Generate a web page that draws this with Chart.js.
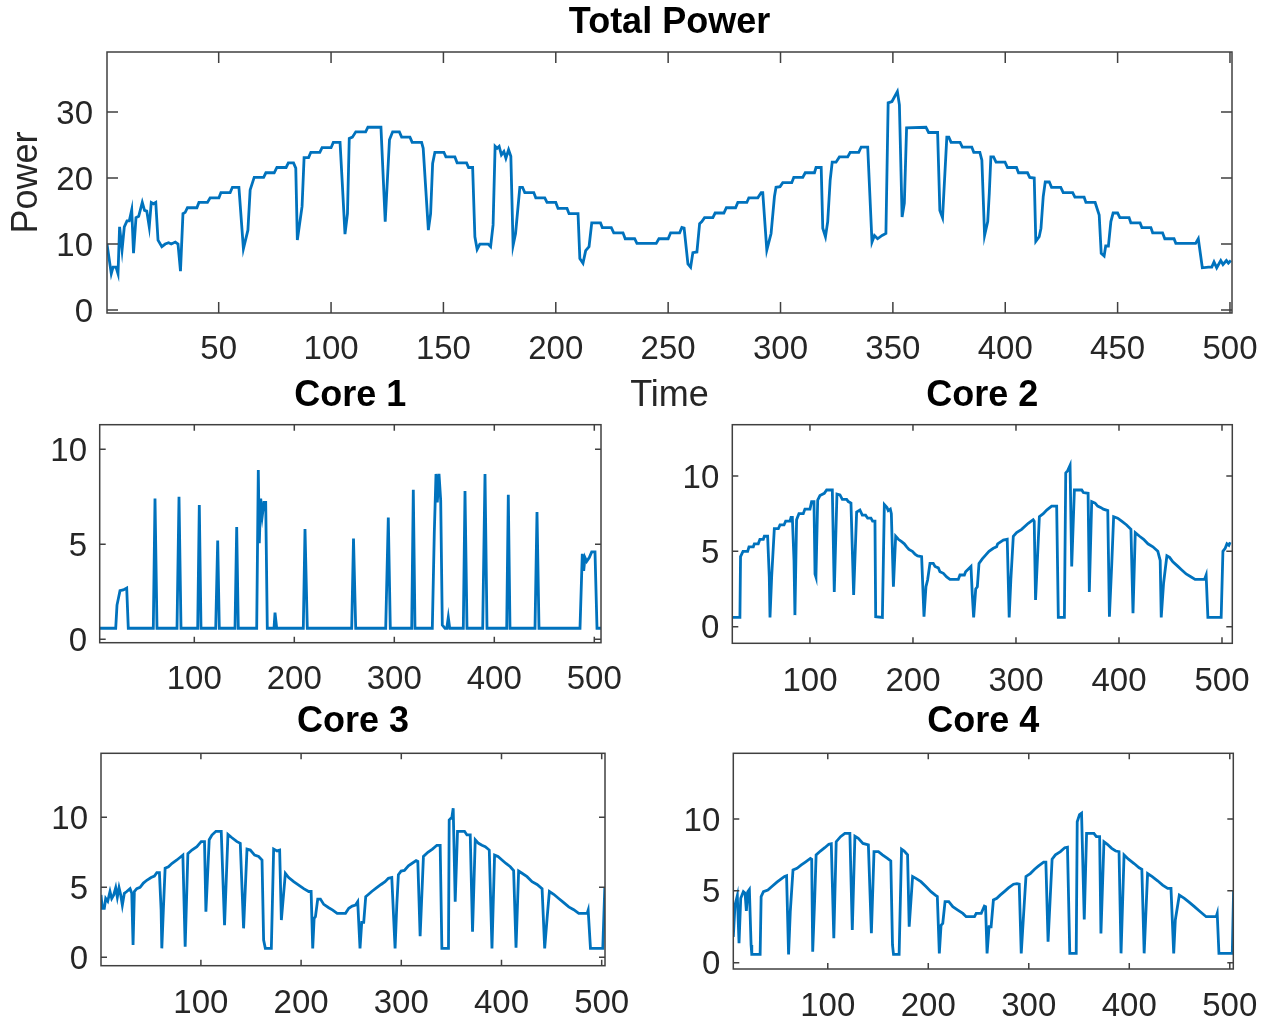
<!DOCTYPE html>
<html>
<head>
<meta charset="utf-8">
<title>Total Power</title>
<script src="https://cdn.jsdelivr.net/npm/chart.js@4.4.0/dist/chart.umd.min.js"></script>
<style>
    body { margin: 0; background: #fff; width: 1270px; height: 1023px; overflow: hidden; position: relative; }
    canvas { position: absolute; }
</style>
</head>
<body>
<canvas id="total" width="1270" height="420" style="left:0;top:0"></canvas>
<canvas id="core1" width="635" height="340" style="left:0;top:370px"></canvas>
<canvas id="core2" width="635" height="340" style="left:635px;top:370px"></canvas>
<canvas id="core3" width="635" height="325" style="left:0;top:698px"></canvas>
<canvas id="core4" width="635" height="325" style="left:635px;top:698px"></canvas>
<script>
// Datos: instantes (tiempo) y potencia de cada serie
const totalT = [0.3,2.2,3,4.3,5.2,5.9,7,8,9.2,10.2,11.3,12.1,13.2,14.4,16,17,18,19.1,20,21,22,23,24.7,26.2,27.7,28.9,30.7,31.9,33,34.1,35.1,36.1,40.3,41.2,45,46.2,50.1,51,55.1,56.1,59,61,63,64,65.8,70,71,74.7,75.9,80,81,83.3,84.3,85,87.1,88,90,91,95,96,100,101,104,105,106.2,107.3,108.1,109.5,111,115.4,116.4,122.2,124.1,126,127.4,130.4,131.4,135.1,136.1,140.3,141,143.3,144.3,145.2,146.2,150.2,151.1,155.1,156.1,160.3,161.2,163,164,165,166.2,169.9,171,172.1,173,173.9,174.8,175.8,176.9,177.8,179,180,181,182.1,184,185.2,186.2,190.2,191.1,195.1,196.1,200,201,205,205.9,209.9,210.7,212.1,213.3,214.8,216,219.9,220.7,224.7,225.8,229.9,230.9,235.1,236.1,244.7,245.9,250,251.1,255.1,256.1,257.1,258.8,260,261,262.8,264,265,266.2,269.9,270.9,274.8,275.9,280,281,285,285.9,289.9,291.4,292.1,293.9,295.8,297.3,298,299.8,301,305,305.9,309.9,311,315.1,315.8,318.1,318.8,320,321,322.1,323,324.7,326.2,329.9,331,334.8,335.9,338.8,340.7,341.8,343.2,345.2,346.9,347.9,349.6,352,352.9,354.1,355.1,356.1,364.7,365.9,369.9,370.9,372.1,374,374.9,375.9,379.9,380.9,385.1,386,388.7,389.6,390.8,392.2,392.9,393.6,394.8,395.9,399.9,401,405,405.9,409.9,410.9,412.9,413.6,415.1,415.9,416.9,417.8,419.6,420.6,424.7,425.8,430,431,435.1,435.9,440,441.8,442.7,444,444.7,445.9,447,448,450,451,455.1,455.9,460,460.8,464.8,465.6,470,471,475.1,475.9,484.7,485.9,487.7,490.4,491.9,492.9,494.1,495.9,496.9,498.4,499.3,500.4];
const totalP = [10.0,5.5,6.5,6.5,5.5,12.6,9.1,12.6,13.5,13.5,15.2,8.6,14.0,14.2,16.3,15.1,15.0,12.6,16.3,16.1,16.3,10.6,9.6,10.0,10.2,10.0,10.3,10.0,5.9,14.6,14.8,15.5,15.5,16.3,16.3,17.0,17.0,17.8,17.8,18.6,18.6,9.3,12.1,18.2,20.1,20.1,20.8,20.8,21.6,21.6,22.3,22.3,21.5,10.6,15.7,23.1,23.1,23.9,23.9,24.6,24.6,25.4,25.4,19.2,11.5,14.6,26.0,26.2,27.0,27.0,27.7,27.7,13.4,25.8,27.0,27.0,26.2,26.2,25.4,25.4,24.5,12.1,14.6,22.2,23.9,23.9,23.2,23.2,22.3,22.3,21.6,21.6,11.1,9.2,10.0,10.0,9.6,12.9,24.8,24.5,24.8,23.5,24.0,23.0,24.3,23.3,9.8,11.6,18.6,18.6,17.8,17.8,17.0,17.0,16.3,16.3,15.4,15.4,14.6,14.6,7.8,7.1,9.0,9.6,13.2,13.2,12.5,12.5,11.7,11.7,10.8,10.8,10.1,10.1,10.8,10.8,11.7,11.7,12.5,12.4,7.0,6.5,8.7,8.8,13.1,13.4,14.0,14.0,14.7,14.7,15.5,15.5,16.3,16.3,17.0,17.0,17.8,17.8,9.1,11.6,17.2,18.6,18.7,19.3,19.3,20.1,20.1,20.8,20.8,21.6,21.6,12.4,11.1,13.4,19.7,22.4,22.4,23.2,23.2,23.9,23.9,24.7,24.7,10.3,11.3,10.8,11.3,11.6,31.4,31.6,33.1,31.1,14.1,16.2,27.6,27.7,26.9,26.9,15.1,14.0,26.2,26.2,25.4,25.4,24.7,24.7,23.9,23.9,22.7,11.3,13.4,17.7,23.2,23.2,22.4,22.4,21.6,21.6,20.8,20.8,20.1,20.0,10.4,11.1,12.4,17.2,19.4,19.4,18.6,18.6,17.8,17.8,17.1,17.1,16.3,16.3,14.4,8.6,8.2,9.7,9.7,13.4,14.7,14.7,14.0,14.0,13.2,13.2,12.5,12.5,11.7,11.7,10.8,10.8,10.1,10.1,10.8,6.4,6.5,6.5,7.3,6.4,7.5,6.9,7.5,7.1,7.5];

const core1T = [5.4,21.4,22.7,25.7,29,32.4,34,59,60.7,62.7,82.7,84.7,86.7,103.4,105,106.7,121.4,123.4,125,140.7,142.4,144,162.4,164,165,166.4,168,169.7,171.4,173,179.7,180.7,182.4,209,210.7,213,257.4,259.2,261.4,291.4,294,296,317.4,319,320.7,338,340,341.7,343,344.7,346.4,348,350.7,352.5,354,355.4,369,370.7,372.7,388.4,390.7,392.7,412.4,414,415.7,440.7,442.7,444.7,485.7,488,489.4,490.7,492.4,495,497.4,500.7,502.7,506.7];
const core1P = [0.58,0.58,1.8,2.56,2.6,2.7,0.58,0.58,7.4,0.58,0.58,7.5,0.58,0.58,7.07,0.58,0.58,5.2,0.58,0.58,5.9,0.58,0.58,8.9,5.05,7.4,6.5,7.2,7.2,0.58,0.58,1.4,0.58,0.58,5.8,0.58,0.58,5.3,0.58,0.58,6.4,0.58,0.58,7.86,0.58,0.58,5.6,8.7,7.2,8.7,7.3,0.75,0.58,0.58,1.15,0.58,0.58,7.8,0.58,0.58,8.7,0.58,0.58,7.6,0.58,0.58,6.7,0.58,0.58,4.5,3.6,4.3,4.1,4.3,4.6,4.6,0.58,0.58];

const core2T = [24.6,32,32.6,35,39.5,40.8,45,46,49.8,51.4,54.7,55.7,58.9,60.5,61.2,62.8,65.4,69.3,70.9,74.8,76.4,80.6,81.6,82.9,84.5,85.4,87,89.3,93.5,95.1,100,101.6,103.9,104.9,105.8,107.5,109.7,113.9,116.2,121.7,123.6,126.2,129.1,131.4,135.6,137.2,139.8,142.4,145.3,148.5,150.8,154,156,159.2,160.8,163.1,163.8,170.3,172.2,174.8,176,178,179,181,183.2,185.8,189,191.6,193.9,196.1,199.4,201.9,204.5,208.4,210.7,212.6,214.2,216.5,219.7,221.4,224.6,226.2,229.5,232.7,235.9,244,245.6,249.9,251.1,256.3,257.6,258.9,260.9,262.5,264.1,267.3,270.5,273.8,278,281.2,282.2,287.7,291.5,293.4,295,297.4,300.6,305.5,311.9,316.7,317.7,319,322.7,326.5,329.8,334.6,339.5,341.1,347,348.3,350.2,352.5,354.1,356.7,363.8,365.4,370,371.2,373.5,376.8,379.3,382.6,384.8,389.1,390.7,393,394.8,398.7,402.6,407.4,411.6,413.6,415.8,420,423.9,428.1,432.9,437.7,440,441,443.3,446.5,449.1,452.3,457.2,460.4,465.2,470.1,473.9,483,484.6,486.3,499.2,500.9,503.1,504.8,506.7,508];
const core2P = [0.62,0.62,4.65,5.0,5.0,5.3,5.3,5.5,5.5,5.8,5.8,6.0,6.0,3.3,0.62,3.3,6.5,6.5,6.75,6.75,7.0,7.0,7.25,7.25,4.4,0.77,7.1,7.5,7.5,7.8,7.8,8.3,8.3,3.5,3.3,8.4,8.7,8.85,9.07,9.07,2.3,8.8,8.74,8.45,8.45,8.3,8.2,2.1,7.6,7.74,7.4,7.4,7.2,7.2,7.0,7.0,0.66,0.62,8.1,7.9,7.7,7.8,7.5,2.65,6.0,5.8,5.64,5.5,5.3,5.13,5.0,4.82,4.7,4.65,0.66,2.65,3.1,4.2,4.2,4.0,3.9,3.65,3.54,3.3,3.14,3.14,3.43,3.43,3.65,4.0,2.1,0.62,2.5,2.65,4.2,4.5,4.75,5.0,5.2,5.3,5.5,5.75,5.8,0.62,3.1,6.0,6.24,6.46,6.86,7.1,7.0,1.77,7.3,7.5,7.74,8.0,8.0,0.62,0.62,10.2,10.35,10.7,4.0,9.07,9.07,8.9,8.85,2.3,8.3,8.2,8.0,7.9,7.8,7.7,0.66,4.2,7.3,7.2,7.0,6.75,6.46,0.9,6.24,6.0,5.8,5.5,5.3,5.0,4.4,0.62,2.9,4.7,4.6,4.3,4.0,3.8,3.5,3.3,3.14,3.14,3.43,0.62,0.62,5.0,5.2,5.5,5.4,5.6];

const core3T = [0.3,1.6,3.6,5,7,9.3,11,13,15,16.6,18.3,20,21.6,23.6,26,29.3,31,32.3,33.6,36,39.3,42.6,46,50.3,53.6,56,58.6,60.3,61,62.6,64.3,67.6,71,76,80.3,82,84.3,87,91,96,100.3,103.6,105,108.3,111,115,120.3,123.6,127,131,136,139.3,142.6,146,149.3,153.6,157.6,161,162.6,164.3,170.3,172.6,176,178.6,180.3,184.3,187.6,192.6,197.6,202.6,207.6,210,211.6,213,214.3,216.6,219.3,222.6,227.6,231.6,236,244.3,247.6,251,254.3,256.5,258.8,260.5,262.5,264.5,266.5,270.5,275.5,279.8,283.8,287.1,290.5,293.8,295.5,297.1,299.8,303.1,307.1,310.5,314.8,316.5,318.8,322.1,326.5,331.1,335.5,338.8,340.5,347.1,347.8,350.5,351.8,353.8,356.1,363.1,365.5,368.8,371.1,373.8,377.1,380.5,383.8,387.8,390.5,393.1,396.5,400.5,404.5,408.8,412.1,414.5,417.1,420.5,425.5,430.5,435.5,440.5,443.1,445.5,447.8,452.1,457.1,462.1,467.1,472.1,477.1,485.5,486.5,488.8,501.1,503.1];
const core3P = [4.45,3.5,3.5,4.2,4.0,4.7,4.2,4.45,4.97,4.3,4.97,4.45,3.73,4.57,4.7,4.9,4.57,0.88,4.7,4.9,5.0,5.3,5.5,5.7,5.8,6.05,6.05,3.37,0.64,3.5,6.36,6.47,6.7,6.95,7.2,7.3,0.75,7.4,7.66,7.9,8.26,8.26,3.25,8.4,8.73,9.0,9.0,2.3,8.78,8.54,8.26,8.14,2.07,7.73,7.66,7.3,7.2,6.95,1.23,0.64,0.64,7.73,7.6,7.66,2.66,6.0,5.7,5.4,5.16,4.9,4.7,4.7,0.64,2.78,2.9,4.16,4.16,3.78,3.54,3.37,3.14,3.14,3.5,3.66,3.73,3.97,0.64,2.5,2.5,4.33,4.45,4.7,4.97,5.2,5.4,5.64,5.7,0.64,3.73,5.9,6.16,6.2,6.54,6.7,6.9,6.85,1.5,7.2,7.5,7.73,8.0,8.0,0.64,0.64,9.8,10.0,10.64,3.97,9.0,9.0,8.74,8.74,1.83,8.4,8.14,8.0,7.9,7.66,0.64,7.3,7.2,6.95,6.7,6.47,6.2,0.69,6.16,6.0,5.76,5.4,5.2,4.9,0.64,2.78,4.7,4.5,4.2,3.9,3.6,3.4,3.14,3.14,3.37,0.64,0.64,5.0];

const core4T = [6,7.7,10,11.7,13.4,16,17.7,19,20.4,22,23.7,24.4,32.7,33.7,36,40.4,44.4,49.4,53.7,57,59,61,62.7,65.4,69.4,73.7,77.7,82.7,84,85,87,88.4,92.7,97,101,103.5,106,108.4,112.7,117,122,124.4,127,130.4,135,140.4,143.4,146,150.4,154.4,159.4,162.7,164.4,165.4,171,173.4,176,179.4,181,184.4,187.7,192.7,197.7,202.7,207,209,211,212.7,214.4,216.7,220.4,224.4,229.4,234.4,237.7,246,247.7,252.7,255.8,257,258.5,260.5,262.5,264.8,268.2,271.5,276.5,279.8,284.8,288.2,290.5,292.5,294.8,297.2,301.5,305.8,309.8,314.8,317,319.2,323.2,326.5,331.5,335.8,338.5,340.8,347.2,348.2,350.5,352.5,355.2,357.5,364.8,367.2,370.5,371.8,374.8,378.2,382.5,386.5,389.8,391.8,394.8,399.2,404.8,409.8,412.5,414.8,418.2,422.5,428.2,433.2,438.2,441.5,444.2,445.8,449.8,454.8,459.8,464.8,469.8,476.5,486.5,487.5,489.2,502.5,503.8];
const core4P = [1.8,4.0,4.66,1.35,4.48,4.94,4.83,3.6,4.94,5.1,1.23,0.58,0.58,4.6,4.94,5.05,5.3,5.6,5.83,6.0,6.05,0.58,3.55,6.45,6.57,6.8,7.0,7.26,7.2,0.77,4.48,7.5,7.77,8.0,8.24,8.28,1.7,8.42,8.77,9.0,9.0,2.28,8.8,8.65,8.3,8.2,2.05,7.73,7.73,7.5,7.26,7.08,1.23,0.58,0.58,7.9,7.77,7.5,2.5,6.0,5.87,5.64,5.3,4.94,4.7,4.6,0.65,2.6,2.73,4.25,4.25,3.9,3.66,3.43,3.2,3.2,3.43,3.43,3.94,3.9,0.65,2.5,2.5,4.36,4.48,4.7,5.0,5.2,5.46,5.5,5.46,0.65,3.3,6.0,6.2,6.5,6.73,7.0,7.0,1.46,7.2,7.5,7.73,8.0,8.04,0.65,0.65,9.8,10.3,10.4,3.0,9.0,9.0,8.77,8.77,2.04,8.42,8.24,7.96,7.77,7.73,0.65,7.5,7.2,6.9,6.6,6.5,0.65,6.2,6.0,5.7,5.4,5.17,5.17,0.65,2.97,4.7,4.48,4.2,3.9,3.6,3.2,3.2,3.43,0.65,0.65,5.06];

// Etiquetas de los ejes
const totalXTicks = [50, 100, 150, 200, 250, 300, 350, 400, 450, 500];
const totalYTicks = [0, 10, 20, 30];
const coreXTicks = [100, 200, 300, 400, 500];
const coreYTicks = [0, 5, 10];

const fuente = "'Liberation Sans', Arial, Helvetica, sans-serif";
const colorTexto = '#262626';

// Dibuja la caja de los ejes con las marcas hacia dentro (como en MATLAB)
const cajaEjes = {
    id: 'cajaEjes',
    afterDatasetsDraw(chart, args, opts) {
        const ctx = chart.ctx;
        const a = chart.chartArea;
        const x = chart.scales.x;
        const y = chart.scales.y;
        const len = opts.len;
        ctx.save();
        ctx.strokeStyle = '#404040';
        ctx.lineWidth = 1.5;
        ctx.strokeRect(a.left, a.top, a.right - a.left, a.bottom - a.top);
        ctx.beginPath();
        x.ticks.forEach(function (t) {
            const px = x.getPixelForValue(t.value);
            ctx.moveTo(px, a.bottom); ctx.lineTo(px, a.bottom - len);
            ctx.moveTo(px, a.top); ctx.lineTo(px, a.top + len);
        });
        y.ticks.forEach(function (t) {
            const py = y.getPixelForValue(t.value);
            ctx.moveTo(a.left, py); ctx.lineTo(a.left + len, py);
            ctx.moveTo(a.right, py); ctx.lineTo(a.right - len, py);
        });
        ctx.stroke();
        ctx.restore();
    }
};

function crearPanel(id, tiempos, valores, c) {
    const puntos = tiempos.map(function (t, i) { return { x: t, y: valores[i] }; });
    new Chart(document.getElementById(id), {
        type: 'line',
        data: {
            datasets: [{
                data: puntos,
                borderColor: '#0072BD',
                borderWidth: 2.8,
                pointRadius: 0,
                tension: 0,
                fill: false
            }]
        },
        options: {
            responsive: false,
            animation: false,
            events: [],
            layout: { padding: { left: 0, right: c.padRight, top: 0, bottom: 0 } },
            plugins: {
                legend: { display: false },
                tooltip: { enabled: false },
                title: {
                    display: true,
                    text: c.titulo,
                    fullSize: false,
                    color: '#000',
                    font: { family: fuente, size: 36, weight: 'bold' },
                    padding: { top: c.titleTop, bottom: c.titleBottom }
                },
                cajaEjes: { len: c.tickLen }
            },
            scales: {
                x: {
                    type: 'linear',
                    min: c.xMin,
                    max: c.xMax,
                    grid: { display: false, drawTicks: false },
                    border: { display: false },
                    afterBuildTicks: function (s) { s.ticks = c.xTicks.map(function (v) { return { value: v }; }); },
                    // alto fijo del eje y sin margen extra para las etiquetas
                    afterFit: function (s) { s.height = c.xHeight; s.paddingLeft = 0; s.paddingRight = 0; },
                    ticks: { color: colorTexto, font: { family: fuente, size: 33 }, padding: c.xPad, maxRotation: 0, autoSkip: false },
                    title: {
                        display: !!c.xTitulo,
                        text: c.xTitulo || '',
                        color: colorTexto,
                        font: { family: fuente, size: 36 },
                        padding: { top: 0, bottom: 2.4 }
                    }
                },
                y: {
                    min: c.yMin,
                    max: c.yMax,
                    grid: { display: false, drawTicks: false },
                    border: { display: false },
                    afterBuildTicks: function (s) { s.ticks = c.yTicks.map(function (v) { return { value: v }; }); },
                    afterFit: function (s) { s.width = c.yWidth; s.paddingTop = 0; s.paddingBottom = 0; },
                    ticks: { color: colorTexto, font: { family: fuente, size: 33 }, padding: c.yPad, labelOffset: 2.5 },
                    title: {
                        display: !!c.yTitulo,
                        text: c.yTitulo || '',
                        color: colorTexto,
                        font: { family: fuente, size: 36 },
                        padding: { top: 5, bottom: 0 }
                    }
                }
            }
        },
        plugins: [cajaEjes]
    });
}

crearPanel('total', totalT, totalP, {
    titulo: 'Total Power', xTitulo: 'Time', yTitulo: 'Power',
    xMin: 0.3, xMax: 500.9, yMin: -0.45, yMax: 39.1,
    xTicks: totalXTicks, yTicks: totalYTicks,
    padRight: 38, yWidth: 107, xHeight: 107, titleTop: 1.5, titleBottom: 7.3,
    xPad: 17, yPad: 14, tickLen: 11
});
crearPanel('core1', core1T, core1P, {
    titulo: 'Core 1',
    xMin: 5.4, xMax: 506.7, yMin: -0.18, yMax: 11.29,
    xTicks: coreXTicks, yTicks: coreYTicks,
    padRight: 34, yWidth: 99.7, xHeight: 67.3, titleTop: 4.4, titleBottom: 7.1,
    xPad: 17.5, yPad: 12.7, tickLen: 6
});
crearPanel('core2', core2T, core2P, {
    titulo: 'Core 2',
    xMin: 24.6, xMax: 510, yMin: -1.1, yMax: 13.4,
    xTicks: coreXTicks, yTicks: coreYTicks,
    padRight: 37.7, yWidth: 97.3, xHeight: 66.7, titleTop: 4.4, titleBottom: 7.1,
    xPad: 18.9, yPad: 13, tickLen: 6
});
crearPanel('core3', core3T, core3P, {
    titulo: 'Core 3',
    xMin: 0.3, xMax: 503.3, yMin: -0.6, yMax: 14.57,
    xTicks: coreXTicks, yTicks: coreYTicks,
    padRight: 30, yWidth: 101, xHeight: 57.3, titleTop: 2.4, titleBottom: 9.7,
    xPad: 18.5, yPad: 13, tickLen: 6
});
crearPanel('core4', core4T, core4P, {
    titulo: 'Core 4',
    xMin: 6, xMax: 503.5, yMin: -0.44, yMax: 14.57,
    xTicks: coreXTicks, yTicks: coreYTicks,
    padRight: 36.7, yWidth: 98.3, xHeight: 54, titleTop: 2.4, titleBottom: 9.7,
    xPad: 18.2, yPad: 13, tickLen: 6
});
</script>
</body>
</html>
